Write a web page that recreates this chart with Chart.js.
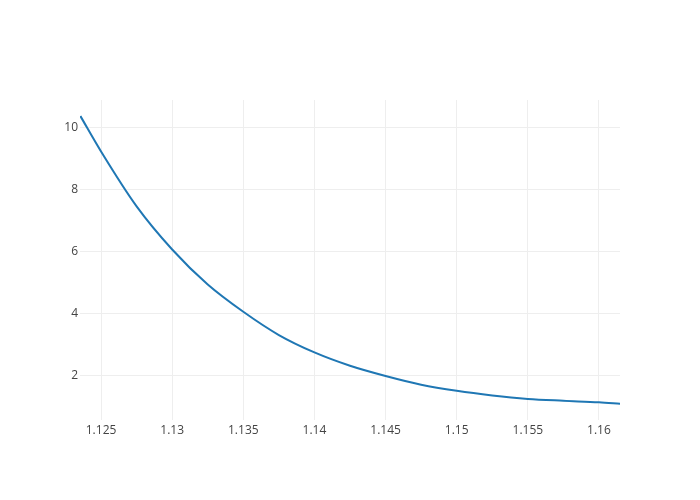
<!DOCTYPE html>
<html>
<head>
<meta charset="utf-8">
<script src="https://cdn.jsdelivr.net/npm/chart.js@4/dist/chart.umd.min.js"></script>
<style>html,body{margin:0;padding:0;background:#fff;}canvas{display:block;}</style>
</head>
<body>
<canvas id="c" width="700" height="500"></canvas>
<script>
const xValues = [1.12355, 1.125, 1.1275, 1.13, 1.1325, 1.135, 1.1375, 1.14, 1.1425, 1.145, 1.1475, 1.15, 1.1525, 1.155, 1.1575, 1.16, 1.1615];
const yValues = [10.38, 9.24, 7.47, 6.08, 4.95, 4.07, 3.32, 2.76, 2.33, 2.0, 1.72, 1.52, 1.37, 1.26, 1.2, 1.15, 1.10];
const xTicks = [1.125, 1.13, 1.135, 1.14, 1.145, 1.15, 1.155, 1.16];
const xTickLabels = ['1.125', '1.13', '1.135', '1.14', '1.145', '1.15', '1.155', '1.16'];
const yTicks = [2, 4, 6, 8, 10];

const points = xValues.map((x, i) => ({x: x, y: yValues[i]}));

new Chart(document.getElementById('c'), {
  type: 'line',
  data: {
    datasets: [{
      data: points,
      borderColor: '#1f77b4',
      borderWidth: 2,
      pointRadius: 0,
      fill: false,
      cubicInterpolationMode: 'monotone'
    }]
  },
  options: {
    responsive: false,
    animation: false,
    layout: {padding: {top: 100, right: 80, bottom: 0, left: 0}},
    plugins: {legend: {display: false}, tooltip: {enabled: false}},
    scales: {
      x: {
        type: 'linear',
        min: 1.12352,
        max: 1.16148,
        border: {display: false},
        grid: {color: '#eeeeee', lineWidth: 1, drawTicks: false},
        afterBuildTicks: (s) => { s.ticks = xTicks.map(v => ({value: v})); },
        afterFit: (s) => { s.height = 80; },
        ticks: {
          padding: 3,
          color: '#444',
          font: {family: 'Open Sans', size: 12},
          maxRotation: 0,
          autoSkip: false,
          callback: (v) => { const i = xTicks.indexOf(v); return i >= 0 ? xTickLabels[i] : ''; }
        }
      },
      y: {
        type: 'linear',
        min: 0.58,
        max: 10.9,
        border: {display: false},
        grid: {color: '#eeeeee', lineWidth: 1, drawTicks: false},
        afterBuildTicks: (s) => { s.ticks = yTicks.map(v => ({value: v})); },
        afterFit: (s) => { s.width = 80; },
        ticks: {
          padding: 2,
          color: '#444',
          font: {family: 'Open Sans', size: 12},
          callback: (v) => String(v)
        }
      }
    }
  }
});
</script>
</body>
</html>
